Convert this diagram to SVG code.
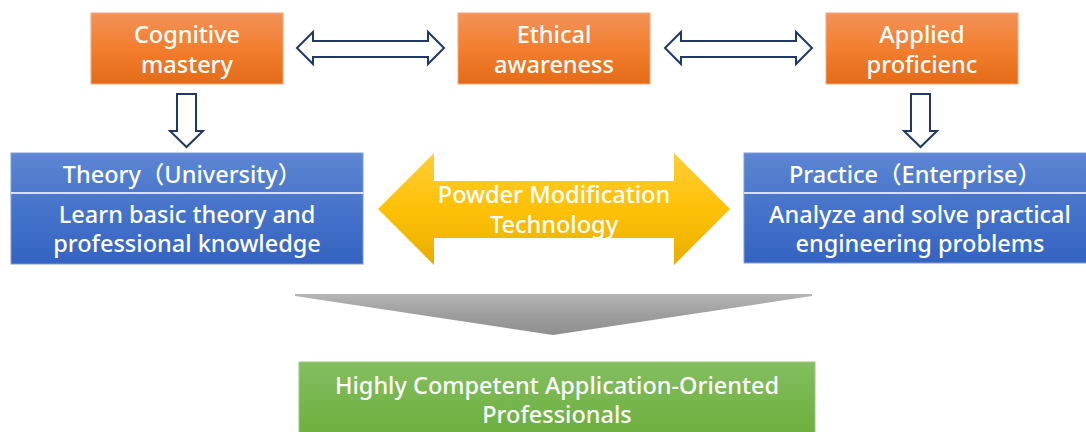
<svg xmlns="http://www.w3.org/2000/svg" width="1086" height="432" viewBox="0 0 1086 432">
<defs>
<linearGradient id="gOrange" x1="0" y1="0" x2="0" y2="1">
<stop offset="0" stop-color="#F39259"/><stop offset="0.5" stop-color="#F27E2E"/><stop offset="1" stop-color="#E36C18"/>
</linearGradient>
<linearGradient id="gBlue" x1="0" y1="0" x2="0" y2="1">
<stop offset="0" stop-color="#5D86D3"/><stop offset="0.5" stop-color="#4673CA"/><stop offset="1" stop-color="#3563C2"/>
</linearGradient>
<linearGradient id="gYellow" x1="0" y1="0" x2="0" y2="1">
<stop offset="0" stop-color="#FFCD38"/><stop offset="0.5" stop-color="#FFC107"/><stop offset="1" stop-color="#E8AE00"/>
</linearGradient>
<linearGradient id="gGray" x1="0" y1="0" x2="0" y2="1">
<stop offset="0" stop-color="#B5B5B5"/><stop offset="0.5" stop-color="#9E9E9E"/><stop offset="1" stop-color="#8E8E8E"/>
</linearGradient>
<linearGradient id="gGreen" x1="0" y1="0" x2="0" y2="1">
<stop offset="0" stop-color="#84BE5F"/><stop offset="1" stop-color="#6AAD3B"/>
</linearGradient>
</defs>
<style>
.t{font-family:"Noto Sans","Noto Sans CJK SC",sans-serif;font-size:23.5px;font-weight:500;fill:#FFFFFF;text-anchor:middle}
.orange{fill:url(#gOrange);stroke:#F6A77A;stroke-width:1}
.blue{fill:url(#gBlue);stroke:#7C9DDC;stroke-width:1}
.outline{fill:#FFFFFF;stroke:#1F3864;stroke-width:2;stroke-linejoin:miter}
</style>
<g id="connectors">
<polygon class="outline" points="297,48 313,32 313,41 428,41 428,32 444,48 428,64 428,57 313,57 313,64"/>
<polygon class="outline" points="665,48 681,32 681,41 796,41 796,32 812,48 796,64 796,57 681,57 681,64"/>
<polygon class="outline" points="177,94 196,94 196,131 203,131 186.5,147 170,131 177,131"/>
<polygon class="outline" points="911,94 930,94 930,131 937,131 920.5,147 904,131 911,131"/>
<polygon fill="url(#gGray)" points="295,294 812,294 812,296 553,335 295,296"/>
</g>
<g id="cognitive">
<rect class="orange" x="91" y="13" width="192" height="71"/>
<text class="t" x="187" y="43">Cognitive</text>
<text class="t" x="187" y="73">mastery</text>
</g>
<g id="ethical">
<rect class="orange" x="458" y="13" width="192" height="71"/>
<text class="t" x="554" y="43">Ethical</text>
<text class="t" x="554" y="73">awareness</text>
</g>
<g id="applied">
<rect class="orange" x="826" y="13" width="192" height="71"/>
<text class="t" x="922" y="43">Applied</text>
<text class="t" x="922" y="73">proficienc</text>
</g>
<g id="theory">
<rect class="blue" x="11" y="153" width="352" height="111"/>
<line x1="11" y1="193" x2="363" y2="193" stroke="#D6E0F5" stroke-width="2"/>
<text class="t" x="182" y="183">Theory（University）</text>
<text class="t" x="187" y="223">Learn basic theory and</text>
<text class="t" x="187" y="252">professional knowledge</text>
</g>
<g id="powder">
<polygon fill="url(#gYellow)" points="378,209 434,153 434,181 674,181 674,153 730,209 674,265 674,238 434,238 434,265"/>
<text class="t" x="554" y="203">Powder Modification</text>
<text class="t" x="554" y="233">Technology</text>
</g>
<g id="practice">
<rect class="blue" x="744" y="153" width="352" height="110"/>
<line x1="744" y1="193" x2="1086" y2="193" stroke="#D6E0F5" stroke-width="2"/>
<text class="t" x="915" y="183">Practice（Enterprise）</text>
<text class="t" x="920" y="223">Analyze and solve practical</text>
<text class="t" x="920" y="252">engineering problems</text>
</g>
<g id="professionals">
<rect x="299" y="362" width="516" height="80" fill="url(#gGreen)" stroke="#9ACB7C" stroke-width="1"/>
<text class="t" x="557" y="394">Highly Competent Application-Oriented</text>
<text class="t" x="557" y="423">Professionals</text>
</g>
</svg>
